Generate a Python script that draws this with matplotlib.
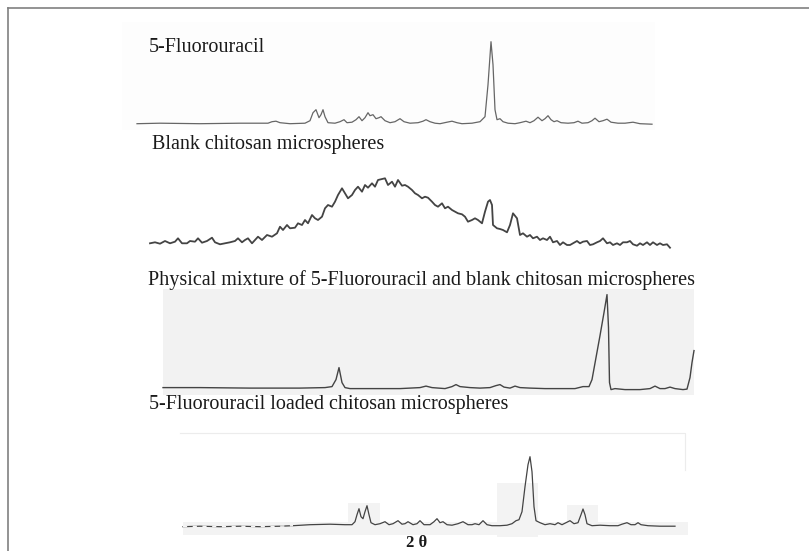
import numpy as np
import matplotlib.pyplot as plt
from matplotlib.patches import Rectangle

# XRD traces.
# x = horizontal position (px in the figure), intensity = height above each baseline (px)

fu_x = [137, 160, 200, 240, 268, 272, 276, 280, 290, 305, 310, 313, 316, 319, 321, 323, 325, 328,
        335, 340, 344, 347, 352, 356, 359, 362, 365, 368, 370, 373, 376, 379, 381, 385, 390, 395,
        400, 404, 410, 418, 423, 426, 430, 435, 440, 447, 452, 457, 462, 472, 480, 485, 488, 491,
        493, 495, 497, 500, 503, 508, 515, 520, 526, 530, 534, 538, 542, 545, 548, 551, 554, 557,
        561, 568, 574, 578, 582, 588, 592, 595, 599, 603, 607, 611, 618, 625, 633, 640, 652]
fu_i = [1, 1.5, 1, 1.5, 1.5, 3, 3.5, 2, 1, 1.5, 4, 12, 15, 7, 10, 15, 8, 2,
        1.5, 3, 5, 2, 2.5, 5, 8, 4, 7, 12, 9, 10, 6, 7, 8, 4, 2, 3,
        6, 3, 1.5, 2, 3.5, 5, 3, 1.5, 1, 2.5, 3.5, 2, 1, 1.5, 3, 8, 40, 83,
        60, 15, 5, 6, 3, 1.5, 1, 2, 3.5, 2, 4, 7.5, 4, 6, 9, 5, 3, 4,
        2, 1.5, 2, 3.5, 1.5, 2, 4, 6.5, 3, 4, 5.5, 2.5, 1.5, 1.5, 2.5, 1, 0.5]

blank_x = [150, 155, 160, 165, 170, 175, 178, 182, 187, 190, 195, 198, 202, 207, 212, 215, 220,
           225, 230, 235, 238, 242, 245, 248, 252, 255, 258, 262, 267, 272, 277, 280, 283, 287,
           290, 295, 298, 302, 305, 308, 312, 315, 318, 322, 325, 328, 332, 335, 338, 342, 345,
           348, 352, 355, 358, 362, 365, 368, 372, 375, 378, 382, 385, 388, 392, 395, 398, 402,
           405, 408, 412, 415, 418, 422, 425, 428, 432, 435, 438, 442, 445, 448, 452, 455, 458,
           462, 465, 468, 472, 475, 478, 482, 485, 488, 490, 492, 493, 497, 500, 503, 507, 510,
           513, 517, 520, 523, 527, 530, 533, 537, 540, 543, 547, 550, 553, 557, 560, 563, 567,
           570, 573, 577, 580, 583, 587, 590, 593, 597, 600, 603, 607, 610, 613, 617, 620, 623,
           627, 630, 633, 637, 640, 643, 647, 650, 653, 657, 660, 663, 667, 670]
blank_i = [1.7, 2.7, 1.3, 4, 1.7, 3.3, 6.7, 1.7, 1.7, 4, 3.3, 6.7, 2.3, 4, 7.3, 2.7, 0.7,
           1.7, 2.7, 4, 6.7, 2.7, 5, 6.7, 1.7, 5, 8.3, 5, 10, 8.3, 11.7, 18.3, 15, 20,
           16.7, 17.3, 21.7, 20, 25, 21.7, 30, 26.7, 25, 28.3, 36.7, 40, 38.3, 43.3, 50, 56.7, 51.7,
           46.7, 50, 55, 58.3, 53.3, 60, 57.3, 61.7, 58.3, 65, 66, 66.7, 60, 63.3, 58.3, 65, 59.3,
           60, 58.3, 55, 51.7, 50, 46.7, 48.3, 47.3, 43.3, 40, 38.3, 41.7, 36.7, 38.3, 35, 33.3, 31.7,
           30.7, 28.3, 23.3, 25, 26.7, 25, 21.7, 33.3, 43.3, 45, 40, 20, 16.7, 16, 15, 12.7, 20,
           31.7, 26.7, 10, 11.7, 8.3, 10, 6.7, 8.3, 5, 6.7, 5, 8.3, 2.7, 4, 0, 2.7, 0,
           0, 1.7, 4, 1.7, 3.3, 4, 0, 0.7, 2.7, 4, 6.7, 1.7, 2.7, 0, 1.7, 0, 2.7,
           2.7, 4, 0.7, -0.7, 1.7, 0, 2.7, 0, 2.7, 0, 1.7, 0, 0.7, -2.7]

mix_x = [163, 200, 250, 300, 325, 332, 336, 339, 342, 345, 350, 370, 400, 420, 426, 432, 445, 452,
         456, 460, 470, 480, 490, 496, 500, 504, 510, 515, 520, 530, 545, 560, 575, 583, 589, 592,
         596, 600, 604, 607, 608.5, 609.5, 611, 615, 625, 640, 650, 655, 660, 665, 670, 675, 683,
         687, 690, 692, 694]
mix_i = [0, 0, -0.5, -0.5, 0, 1, 8, 20, 5, 0, -1, -1, -1, 0, 1.5, 0, -1, 1,
         3, 1, 0, -0.5, 0, 2, 3, 0.5, -0.5, 1.5, 0, -0.5, -1, -1, -1, 1, 1, 8,
         30, 52, 75, 93, 60, 5, -2, -1, -2, -2, -1, 1.5, -1, -1, 0.5, -1, -2,
         -1.5, 10, 25, 37]

loaded_x = [183, 200, 220, 240, 260, 280, 293, 310, 330, 345, 352, 355, 357, 359, 361, 363, 365,
            367, 369, 371, 375, 380, 385, 389, 393, 398, 402, 405, 408, 413, 417, 420, 424, 430,
            434, 437, 440, 443, 447, 452, 458, 463, 468, 472, 475, 479, 483, 487, 492, 500, 507,
            512, 516, 519, 522, 525, 528, 530, 532, 534, 536, 540, 545, 550, 555, 558, 562, 566,
            570, 574, 578, 581, 583, 585, 587, 592, 600, 610, 618, 622, 627, 631, 635, 638, 641,
            648, 660, 675]
loaded_i = [0, 0.5, 0, 0.5, 0, 0.5, 1, 2, 2.5, 2, 2, 5, 12, 18, 10, 8, 15,
            21, 12, 4, 2, 3, 5, 2, 3, 6, 2.5, 3, 5, 2, 3, 6, 2, 2,
            5, 8, 4, 5, 2, 1.5, 3, 5, 2, 2, 3, 2, 6, 2, 1, 1, 1.5,
            3, 6, 7, 15, 40, 62, 70, 55, 20, 6, 4, 2, 3, 2, 4, 2, 4,
            6, 3, 4, 12, 17.7, 12, 3, 1, 1.5, 1, 1, 2.5, 4, 2, 2, 4, 2,
            1, 0.5, 0.5]

labels = ['5-Fluorouracil',
          'Blank chitosan microspheres',
          'Physical mixture of 5-Fluorouracil and blank chitosan microspheres',
          '5-Fluorouracil loaded chitosan microspheres']
xlabel = '2 θ'

W, H = 809, 551
fig = plt.figure(figsize=(W / 100, H / 100), dpi=100)
ax = fig.add_axes([0, 0, 1, 1])
ax.set_xlim(0, W)
ax.set_ylim(H, 0)
ax.axis('off')

# scanned panel backgrounds
ax.add_patch(Rectangle((122, 22), 533, 108, color='#fdfdfd', lw=0, zorder=0))
ax.add_patch(Rectangle((163, 289), 531, 106, color='#f2f2f2', lw=0, zorder=0))
ax.add_patch(Rectangle((183, 522), 505, 13, color='#f3f3f3', lw=0, zorder=0))
for x0, y0, w, h in [(348, 503, 32, 27), (497, 483, 41, 54), (567, 505, 31, 25)]:
    ax.add_patch(Rectangle((x0, y0), w, h, color='#f3f3f3', lw=0, zorder=0))
ax.plot([180, 685, 685], [433, 433, 470], color='#ececec', lw=0.8, zorder=0)

baselines = [124.7, 245, 387.6, 526.7]
traces = [(fu_x, fu_i, '#666666', 0.9),
          (blank_x, blank_i, '#444444', 1.3),
          (mix_x, mix_i, '#444444', 1.0),
          (loaded_x, loaded_i, '#444444', 0.9)]
for (x, inten, c, lw), base in zip(traces, baselines):
    ax.plot(x, base - np.array(inten), color=c, lw=lw, solid_joinstyle='round')

# faded start of the loaded-microsphere scan
n_faded = 7
ax.plot(loaded_x[:n_faded], baselines[3] - np.array(loaded_i[:n_faded]),
        color='#f6f6f6', lw=1.0, ls=(0, (3, 4)))

label_pos = [(149, 48), (152, 145), (148, 280), (149, 405)]
for txt, (lx, ly) in zip(labels, label_pos):
    ax.text(lx, ly, txt, fontsize=14.5, family='Liberation Serif', color='#1a1a1a',
            ha='left', va='center')
ax.text(417, 543, xlabel, fontsize=12, family='Liberation Serif', weight='bold',
        color='#1a1a1a', ha='center', va='center')

# frame (left and top edges only)
fa = fig.add_axes([8.3 / W, 0, 1 - 8.3 / W, 1 - 8.3 / H])
fa.patch.set_visible(False)
fa.set_xticks([])
fa.set_yticks([])
for side in ['right', 'bottom']:
    fa.spines[side].set_visible(False)
for side in ['left', 'top']:
    fa.spines[side].set_color('#808080')
    fa.spines[side].set_linewidth(1.2)

fig.savefig('out.png', dpi=100)
